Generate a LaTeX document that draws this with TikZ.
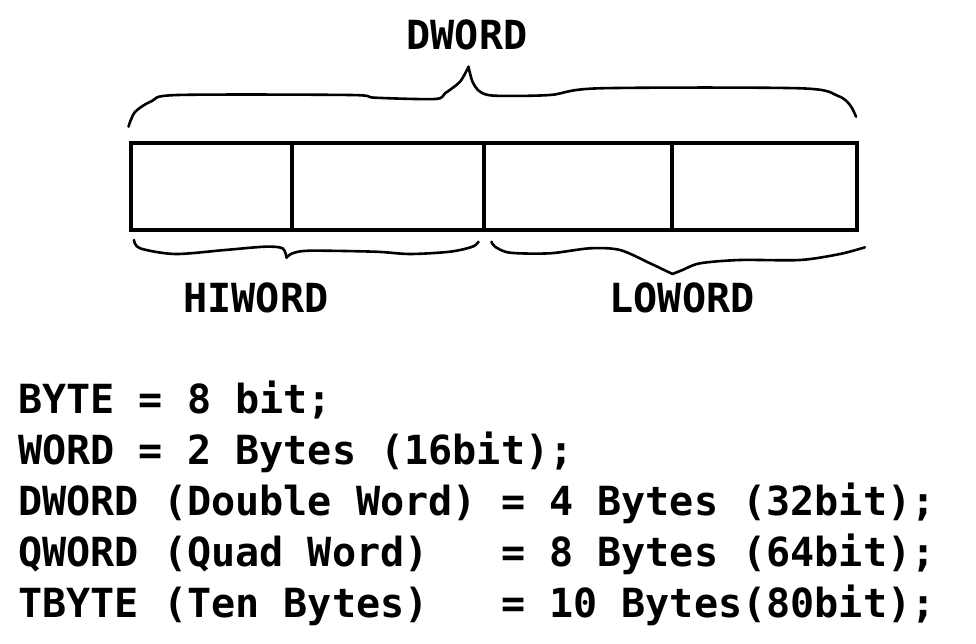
\documentclass[tikz,border=0pt]{standalone}
\usepackage{fontspec}
\newfontfamily\consfont{DejaVu Sans Mono}[BoldFont={DejaVu Sans Mono Bold}]
\begin{document}
\begin{tikzpicture}[x=1pt,y=-1pt,
  txt/.style={font=\consfont\bfseries\fontsize{40.1}{51}\selectfont, inner sep=0pt, anchor=base west},
  lbl/.style={font=\consfont\bfseries\fontsize{40.1}{51}\selectfont, inner sep=0pt, anchor=base},
  cell/.style={draw=black, line width=4pt, minimum height=87pt, inner sep=0pt, anchor=north west},
  brace/.style={draw=black, line width=2.6pt, line cap=round, line join=round}]
\useasboundingbox (0,0) rectangle (976,644);
% cells
\node[cell, minimum width=161pt] (c1) at (129,141) {};
\node[cell, minimum width=192pt] (c2) at (290,141) {};
\node[cell, minimum width=188pt] (c3) at (482,141) {};
\node[cell, minimum width=185pt] (c4) at (670,141) {};
% braces
\draw[brace] plot[smooth, tension=0.5] coordinates {(128.5,126.7) (135,112) (152,101) (178,95) (350,95) (375,97.7) (435,99) (445,93.3) (460,81.7) (468.5,66.7)};
\draw[brace] plot[smooth, tension=0.5] coordinates {(468.5,66.7) (472.5,81.7) (480,91.7) (495,95.7) (550,95) (600,88.3) (800,88.3) (838,96) (850,105) (856,116.7)};
\draw[brace] plot[smooth, tension=0.5] coordinates {(134,240) (140,248.3) (175,254) (225,250) (265,246.7) (282.5,248.3) (286.5,257.7)};
\draw[brace] plot[smooth, tension=0.5] coordinates {(286.5,257.7) (292.5,253.3) (310,250.7) (375,251.7) (410,254) (450,251.7) (472.5,246.7) (478.5,241.7)};
\draw[brace] plot[smooth, tension=0.5] coordinates {(491.5,241.7) (495,246.7) (510,252.7) (550,253.3) (590,248.3) (620,250) (650,263.3) (672.5,274)};
\draw[brace] plot[smooth, tension=0.5] coordinates {(672.5,274) (682.5,270) (700,263.3) (740,260) (800,260) (840,254) (865,247.3)};
% labels
\node[lbl] (dw) at (467,50) {DWORD};
\node[lbl] (hw) at (256,312) {HIWORD};
\node[lbl] (lw) at (682,312) {LOWORD};
% text lines
\node[txt] (l1) at (18,413) {BYTE = 8 bit;};
\node[txt] (l2) at (18,464) {WORD = 2 Bytes (16bit);};
\node[txt] (l3) at (18,515) {DWORD (Double Word) = 4 Bytes (32bit);};
\node[txt] (l4) at (18,566) {QWORD (Quad Word)~~~= 8 Bytes (64bit);};
\node[txt] (l5) at (18,617) {TBYTE (Ten Bytes)~~~= 10 Bytes(80bit);};
\end{tikzpicture}
\end{document}
